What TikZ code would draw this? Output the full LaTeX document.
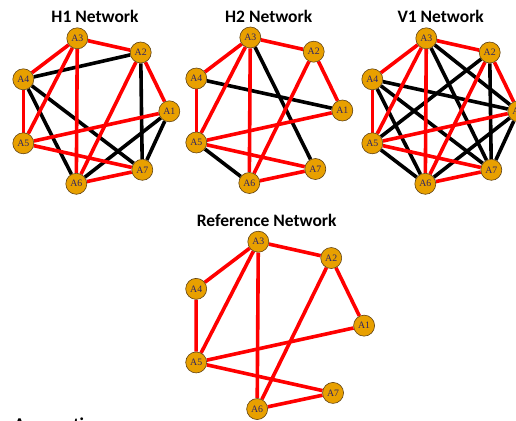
\documentclass[tikz,border=0pt]{standalone}
\usepackage{fontspec}
\setmainfont{Liberation Serif}
\newfontfamily\titlefont{Carlito}
\usetikzlibrary{backgrounds}

\definecolor{agentfill}{RGB}{232,160,0}
\definecolor{agentedge}{RGB}{95,65,20}
\definecolor{agenttext}{RGB}{45,35,100}
\definecolor{linkred}{RGB}{255,0,0}

\tikzset{
  agent/.style={circle, draw=agentedge, line width=0.6pt, fill=agentfill,
    minimum size=21pt, inner sep=0pt, text=agenttext,
    font=\fontsize{9.8}{9.8}\selectfont},
  agreed/.style={draw=linkred, line width=3.6pt},
  differs/.style={draw=black, line width=3.6pt},
  nettitle/.style={anchor=base, font=\titlefont\bfseries\fontsize{17.5}{17.5}\selectfont}
}

% seven agents on a heptagon, positions relative to A3
\newcommand\placeagents[1]{%
  \node[agent] (#1-3) at (0,0)        {A3};
  \node[agent] (#1-2) at (63.4,14.2)  {A2};
  \node[agent] (#1-4) at (-54,41)     {A4};
  \node[agent] (#1-1) at (92,73)      {A1};
  \node[agent] (#1-5) at (-54,105)    {A5};
  \node[agent] (#1-7) at (65,131.5)   {A7};
  \node[agent] (#1-6) at (-1,145.5)   {A6};
}
% the ten links shared by every network
\newcommand\commonlinks[1]{%
  \foreach \a/\b in {3/2,3/4,3/5,3/6,2/1,2/6,4/5,5/1,5/7,6/7}
    \draw[agreed] (#1-\a) -- (#1-\b);
}

\begin{document}
\begin{tikzpicture}[x=1pt, y=-1pt]
  \useasboundingbox (0,0) rectangle (516,420);

  % H1
  \node[nettitle] (t-h1) at (95,22.7) {H1 Network};
  \begin{scope}[shift={(77.3,38.3)}]
    \placeagents{h1}
    \begin{scope}[on background layer]
      \foreach \a/\b in {4/2,4/7,4/6,2/7,1/6,1/7}
        \draw[differs] (h1-\a) -- (h1-\b);
      \commonlinks{h1}
    \end{scope}
  \end{scope}

  % H2
  \node[nettitle] (t-h2) at (268.7,22.7) {H2 Network};
  \begin{scope}[shift={(250.3,37.5)}]
    \placeagents{h2}
    \begin{scope}[on background layer]
      \foreach \a/\b in {3/7,4/1,5/6}
        \draw[differs] (h2-\a) -- (h2-\b);
      \commonlinks{h2}
    \end{scope}
  \end{scope}

  % V1
  \node[nettitle] (t-v1) at (440.7,22.7) {V1 Network};
  \begin{scope}[shift={(426.3,38.3)}]
    \placeagents{v1}
    \begin{scope}[on background layer]
      \foreach \a/\b in {3/7,3/1,2/5,2/7,4/1,4/7,4/6,5/6,1/6,1/7}
        \draw[differs] (v1-\a) -- (v1-\b);
      \commonlinks{v1}
    \end{scope}
  \end{scope}

  % Reference
  \node[nettitle] (t-ref) at (266.7,226) {Reference Network};
  \begin{scope}[shift={(258.3,241.7)}, scale=1.15]
    \placeagents{rf}
    \begin{scope}[on background layer]
      \commonlinks{rf}
    \end{scope}
  \end{scope}

  % heading running off the lower edge
  \node[anchor=base west, inner sep=0pt,
        font=\titlefont\bfseries\fontsize{18}{18}\selectfont] (assume) at (14,430.5) {Assumptions};
\end{tikzpicture}
\end{document}
